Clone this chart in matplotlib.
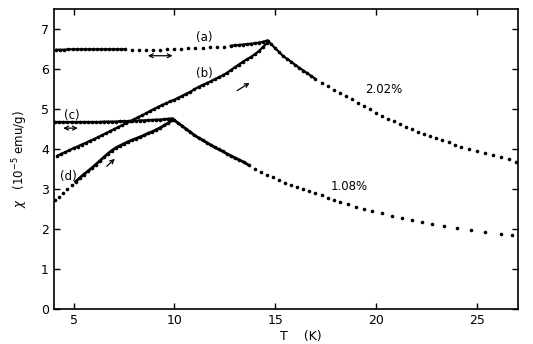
import numpy as np
import matplotlib
matplotlib.use('Agg')
import matplotlib.pyplot as plt

# (a) field-cooled, 2.02%
a_T = [4.15, 4.35, 4.55, 4.75, 4.95, 5.15, 5.35, 5.55, 5.75, 5.95, 6.15, 6.35,
       6.55, 6.75, 6.95, 7.15, 7.35, 7.55,
       7.9, 8.25, 8.6, 8.95, 9.3, 9.65, 10.0, 10.35, 10.7, 11.05, 11.4, 11.75,
       12.1, 12.45,
       12.8, 13.0, 13.2, 13.4, 13.6, 13.8, 14.0, 14.2, 14.4, 14.6]
a_chi = [6.48, 6.48, 6.48, 6.49, 6.49, 6.49, 6.49, 6.49, 6.49, 6.49, 6.49, 6.49,
         6.49, 6.49, 6.49, 6.49, 6.49, 6.49,
         6.48, 6.48, 6.47, 6.47, 6.48, 6.49, 6.50, 6.51, 6.52, 6.52, 6.53, 6.54,
         6.55, 6.56,
         6.58, 6.59, 6.60, 6.61, 6.62, 6.63, 6.64, 6.66, 6.68, 6.71]

# (b) zero-field-cooled, 2.02%
b_T = [4.2, 4.4, 4.6, 4.8, 5.0, 5.2, 5.4, 5.6, 5.8, 6.0, 6.2, 6.4, 6.6, 6.8,
       7.0, 7.2, 7.4, 7.6, 7.8, 8.0, 8.2, 8.4, 8.6, 8.8, 9.0, 9.2, 9.4, 9.6,
       9.8, 10.0, 10.2, 10.4, 10.6, 10.8, 11.0, 11.2, 11.4, 11.6, 11.8, 12.0,
       12.2, 12.4, 12.6, 12.8, 13.0, 13.2, 13.4, 13.6, 13.8, 14.0, 14.2, 14.4,
       14.6]
b_chi = [3.83, 3.88, 3.92, 3.97, 4.02, 4.06, 4.11, 4.15, 4.20, 4.24, 4.29, 4.34,
         4.39, 4.44, 4.49, 4.54, 4.59, 4.64, 4.69, 4.74, 4.79, 4.84, 4.89, 4.95,
         5.00, 5.05, 5.10, 5.14, 5.19, 5.23, 5.28, 5.33, 5.38, 5.43, 5.49, 5.55,
         5.60, 5.64, 5.69, 5.74, 5.79, 5.84, 5.90, 5.97, 6.04, 6.11, 6.18, 6.24,
         6.30, 6.37, 6.45, 6.55, 6.65]

# 2.02% above the peak
e_T = [14.65, 14.8, 15.0, 15.2, 15.4, 15.6, 15.8, 16.0, 16.2, 16.4, 16.6, 16.8,
       17.0, 17.3, 17.6, 17.9, 18.2, 18.5, 18.8, 19.1, 19.4, 19.7, 20.0, 20.3,
       20.6, 20.9, 21.2, 21.5, 21.8, 22.1, 22.4, 22.7, 23.0, 23.3, 23.6, 23.9,
       24.2, 24.6, 25.0, 25.4, 25.8, 26.2, 26.6, 26.95]
e_chi = [6.70, 6.62, 6.52, 6.42, 6.32, 6.25, 6.18, 6.10, 6.03, 5.96, 5.89, 5.82,
         5.75, 5.66, 5.57, 5.48, 5.40, 5.32, 5.25, 5.16, 5.07, 4.99, 4.91, 4.83,
         4.76, 4.69, 4.62, 4.55, 4.49, 4.43, 4.37, 4.32, 4.27, 4.22, 4.17, 4.11,
         4.06, 4.00, 3.96, 3.91, 3.86, 3.81, 3.75, 3.68]

# (c) field-cooled, 1.08%
c_T = [4.1, 4.3, 4.5, 4.7, 4.9, 5.1, 5.3, 5.5, 5.7, 5.9, 6.1, 6.3, 6.5, 6.7,
       6.9, 7.1, 7.3, 7.5, 7.7, 7.9, 8.1, 8.3, 8.5, 8.7, 8.9, 9.1, 9.3, 9.5,
       9.7, 9.9]
c_chi = [4.67, 4.67, 4.67, 4.67, 4.67, 4.67, 4.67, 4.67, 4.67, 4.67, 4.67, 4.67,
         4.68, 4.68, 4.68, 4.68, 4.69, 4.69, 4.69, 4.70, 4.70, 4.71, 4.71, 4.72,
         4.72, 4.73, 4.73, 4.74, 4.75, 4.76]

# (d) zero-field-cooled, 1.08%
d_T = [4.1, 4.3, 4.5, 4.7, 4.9, 5.1, 5.3, 5.5, 5.7, 5.9, 6.1, 6.3, 6.5, 6.7,
       6.9, 7.1, 7.3, 7.5, 7.7, 7.9, 8.1, 8.3, 8.5, 8.7, 8.9, 9.1, 9.3, 9.5,
       9.7, 9.9]
d_chi = [2.72, 2.80, 2.90, 3.00, 3.10, 3.18, 3.27, 3.36, 3.44, 3.52, 3.61, 3.70,
         3.79, 3.88, 3.96, 4.03, 4.08, 4.13, 4.18, 4.22, 4.26, 4.30, 4.34, 4.39,
         4.43, 4.48, 4.53, 4.59, 4.65, 4.72]

# 1.08% above the peak
f_T = [10.0, 10.2, 10.4, 10.6, 10.8, 11.0, 11.2, 11.4, 11.6, 11.8, 12.0, 12.2,
       12.4, 12.6, 12.8, 13.0, 13.2, 13.45, 13.7, 14.0, 14.3, 14.6, 14.9, 15.2,
       15.5, 15.8, 16.1, 16.4, 16.7, 17.0, 17.3, 17.6, 17.9, 18.2, 18.6, 19.0,
       19.4, 19.8, 20.3, 20.8, 21.3, 21.8, 22.3, 22.8, 23.4, 24.0, 24.7, 25.4,
       26.2, 26.75]
f_chi = [4.72, 4.64, 4.57, 4.49, 4.42, 4.34, 4.28, 4.22, 4.16, 4.10, 4.04, 3.99,
         3.94, 3.88, 3.83, 3.78, 3.73, 3.67, 3.59, 3.50, 3.42, 3.36, 3.29, 3.22,
         3.16, 3.10, 3.04, 2.99, 2.94, 2.89, 2.84, 2.78, 2.73, 2.68, 2.62, 2.56,
         2.50, 2.45, 2.39, 2.32, 2.27, 2.22, 2.17, 2.13, 2.07, 2.02, 1.97, 1.92,
         1.87, 1.85]

x_ticks = [5, 10, 15, 20, 25]
y_ticks = [0, 1, 2, 3, 4, 5, 6, 7]

plt.rcParams['font.family'] = 'DejaVu Sans'

fig = plt.figure(figsize=(5.33, 3.44), dpi=100)
ax = fig.add_axes([0.102, 0.102, 0.870, 0.872])

dot = dict(ls='none', marker='o', ms=2.6, color='black', mew=0)
for T, chi in [(a_T, a_chi), (b_T, b_chi), (e_T, e_chi),
               (c_T, c_chi), (d_T, d_chi), (f_T, f_chi)]:
    ax.plot(T, chi, **dot)

# dense runs read as solid traces
ax.plot(a_T[:18], a_chi[:18], color='black', lw=1.6)
ax.plot(a_T[32:], a_chi[32:], color='black', lw=1.6)
ax.plot(b_T, b_chi, color='black', lw=1.6)
ax.plot(e_T[:13], e_chi[:13], color='black', lw=1.6)
ax.plot(c_T, c_chi, color='black', lw=1.8)
ax.plot(d_T[5:], d_chi[5:], color='black', lw=2.0)
ax.plot(f_T[:19], f_chi[:19], color='black', lw=2.0)

ax.set_xlim(4.05, 27.05)
ax.set_ylim(0, 7.5)
ax.set_xticks(x_ticks)
ax.set_yticks(y_ticks)
ax.tick_params(direction='in', length=4, width=1, top=True, right=True,
               labelsize=9, pad=4)
for s in ax.spines.values():
    s.set_linewidth(1.2)

ax.set_ylabel(r'$\chi$   (10$^{-5}$ emu/g)', fontsize=8.5, labelpad=8)
fig.text(0.565, 0.003, 'T    (K)', ha='center', va='bottom', fontsize=9)

lab = dict(fontsize=8.5, ha='center', va='center')
ax.text(11.5, 6.78, '(a)', **lab)
ax.text(11.5, 5.88, '(b)', **lab)
ax.text(4.9, 4.83, '(c)', **lab)
ax.text(4.75, 3.3, '(d)', **lab)
ax.text(20.4, 5.48, '2.02%', **lab)
ax.text(18.7, 3.07, '1.08%', **lab)

arr = dict(color='black', lw=0.9, mutation_scale=7)
ax.annotate('', xy=(10.05, 6.33), xytext=(8.55, 6.33),
            arrowprops=dict(arrowstyle='<->', **arr))
ax.annotate('', xy=(5.35, 4.52), xytext=(4.35, 4.52),
            arrowprops=dict(arrowstyle='<->', **arr))
ax.annotate('', xy=(13.85, 5.69), xytext=(13.0, 5.42),
            arrowprops=dict(arrowstyle='->', **arr))
ax.annotate('', xy=(7.15, 3.8), xytext=(6.55, 3.52),
            arrowprops=dict(arrowstyle='->', **arr))

fig.savefig('out.png', dpi=100)
